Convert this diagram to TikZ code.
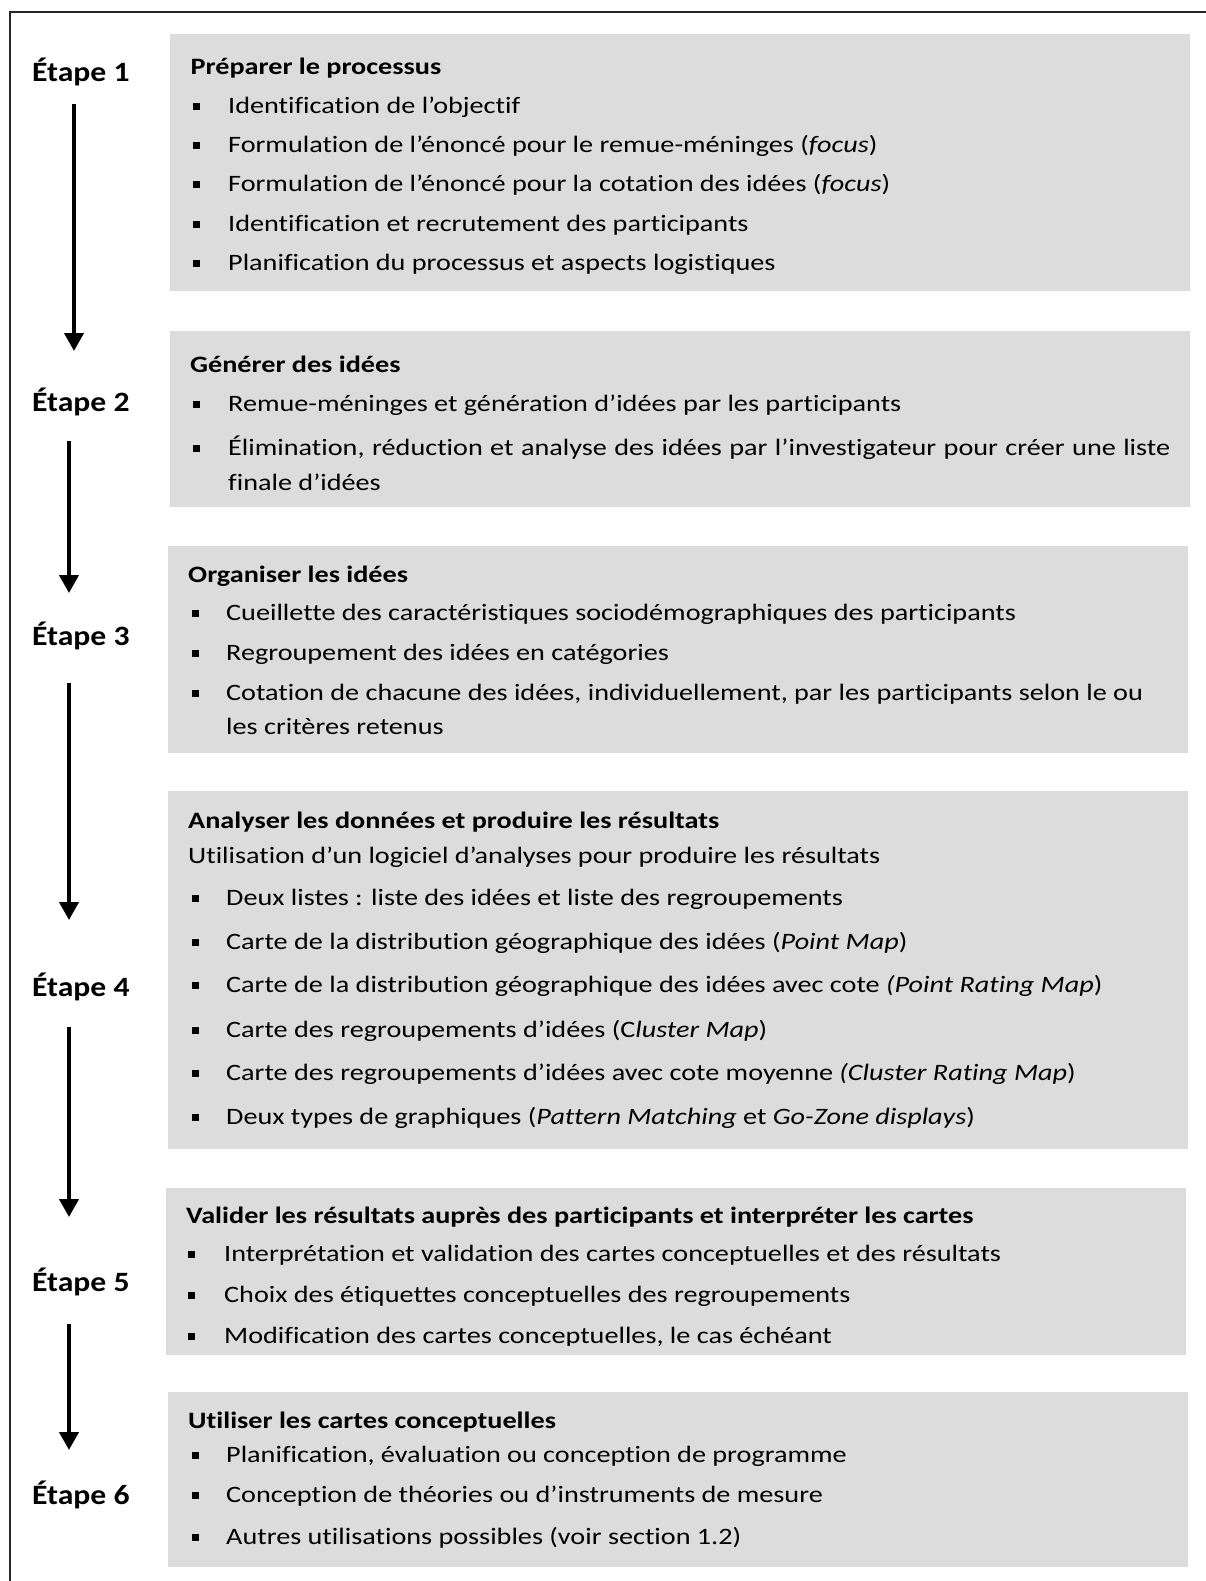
\documentclass[tikz,border=0pt]{standalone}
\usepackage{fontspec}
\setmainfont{Carlito}[FakeStretch=1.2, Ligatures=NoCommon]
\newfontfamily\stagefont{Carlito}[FakeStretch=1.13, Ligatures=NoCommon]
\usetikzlibrary{arrows.meta}
\definecolor{panelgray}{RGB}{220,220,220}
\tikzset{
  panel/.style={fill=panelgray, draw=none},
  stagelabel/.style={font=\stagefont\fontsize{28}{32}\selectfont\bfseries, inner sep=0pt, anchor=base west},
  heading/.style={font=\fontsize{23.5}{28}\selectfont\bfseries, inner sep=0pt, anchor=base west},
  body/.style={font=\fontsize{23.5}{28}\selectfont, inner sep=0pt, anchor=base west},
  flow/.style={line width=4pt, -{Triangle[width=19pt,length=18pt]}},
  frameline/.style={line width=1.8pt, draw=black!85}
}
% bullet square and its text: name, bullet x, text x, baseline y, text
\newcommand\bitem[5]{%
  \fill ({#2-3.5},{#4-10.5}) rectangle ({#2+3.5},{#4-3.5});
  \node[body] (#1) at (#3,#4) {#5};}
\begin{document}
\begin{tikzpicture}[x=1pt, y=-1pt]
\useasboundingbox (0,0) rectangle (1206,1581);
% outer frame (top and left edges)
\draw[frameline] (10,1581) -- (10,12) -- (1206,12);

% grey panels
\fill[panel] (170,34) rectangle (1190,291);
\fill[panel] (170,331) rectangle (1190,507);
\fill[panel] (168,546) rectangle (1188,753);
\fill[panel] (168,791) rectangle (1188,1149);
\fill[panel] (166,1188) rectangle (1186,1355);
\fill[panel] (168,1392) rectangle (1188,1567);

% stage labels
\node[stagelabel] (e1) at (32,82)   {Étape 1};
\node[stagelabel] (e2) at (32,411)  {Étape 2};
\node[stagelabel] (e3) at (32,645)  {Étape 3};
\node[stagelabel] (e4) at (32,996)  {Étape 4};
\node[stagelabel] (e5) at (32,1291) {Étape 5};
\node[stagelabel] (e6) at (32,1504) {Étape 6};

% arrows between stages
\coordinate (a1s) at (74,104);  \coordinate (a1e) at (74,351);
\coordinate (a2s) at (69,441);  \coordinate (a2e) at (69,593);
\coordinate (a3s) at (69,683);  \coordinate (a3e) at (69,920);
\coordinate (a4s) at (69,1027); \coordinate (a4e) at (69,1217);
\coordinate (a5s) at (69,1324); \coordinate (a5e) at (69,1450);
\draw[flow] (a1s) -- (a1e);
\draw[flow] (a2s) -- (a2e);
\draw[flow] (a3s) -- (a3e);
\draw[flow] (a4s) -- (a4e);
\draw[flow] (a5s) -- (a5e);

% stage 1
\node[heading] (h1) at (190.5,75) {Préparer le processus};
\bitem{s1a}{196}{228}{114}{Identification de l’objectif}
\bitem{s1b}{196}{228}{153}{Formulation de l’énoncé pour le remue-méninges (\textit{focus})}
\bitem{s1c}{196}{228}{192}{Formulation de l’énoncé pour la cotation des idées (\textit{focus})}
\bitem{s1d}{196}{228}{231}{Identification et recrutement des participants}
\bitem{s1e}{196}{228}{270}{Planification du processus et aspects logistiques}

% stage 2
\node[heading] (h2) at (190,372) {Générer des idées};
\bitem{s2a}{196}{228}{411}{Remue-méninges et génération d’idées par les participants}
\bitem{s2b}{196}{228}{455}{\makebox[942pt][s]{Élimination, réduction et analyse des idées par l’investigateur pour créer une liste}}
\node[body] (s2c) at (228,490) {finale d’idées};

% stage 3
\node[heading] (h3) at (188,582) {Organiser les idées};
\bitem{s3a}{195}{226}{620}{Cueillette des caractéristiques sociodémographiques des participants}
\bitem{s3b}{195}{226}{660}{Regroupement des idées en catégories}
\bitem{s3c}{195}{226}{700}{Cotation de chacune des idées, individuellement, par les participants selon le ou}
\node[body] (s3d) at (226,734) {les critères retenus};

% stage 4
\node[heading] (h4) at (188,828) {Analyser les données et produire les résultats};
\node[body] (s4u) at (188,863) {Utilisation d’un logiciel d’analyses pour produire les résultats};
\bitem{s4a}{195}{226}{905}{Deux listes : liste des idées et liste des regroupements}
\bitem{s4b}{195}{226}{949}{Carte de la distribution géographique des idées (\textit{Point Map})}
\bitem{s4c}{195}{226}{992}{Carte de la distribution géographique des idées avec cote \textit{(Point Rating Map})}
\bitem{s4d}{195}{226}{1037}{Carte des regroupements d’idées (C\textit{luster Map})}
\bitem{s4e}{195}{226}{1080}{Carte des regroupements d’idées avec cote moyenne \textit{(Cluster Rating Map})}
\bitem{s4f}{195}{226}{1124}{Deux types de graphiques (\textit{Pattern Matching} et \textit{Go-Zone displays})}

% stage 5 (the last line is cut just below its baseline)
\node[heading] (h5) at (186,1223) {Valider les résultats auprès des participants et interpréter les cartes};
\begin{scope}
\clip (166,1188) rectangle (1186,1345);
\bitem{s5a}{191.5}{224}{1261.5}{Interprétation et validation des cartes conceptuelles et des résultats}
\bitem{s5b}{191.5}{224}{1302}{Choix des étiquettes conceptuelles des regroupements}
\bitem{s5c}{191.5}{224}{1343}{Modification des cartes conceptuelles, le cas échéant}
\end{scope}

% stage 6
\node[heading] (h6) at (188,1428) {Utiliser les cartes conceptuelles};
\bitem{s6a}{195}{226}{1462}{Planification, évaluation ou conception de programme}
\bitem{s6b}{195}{226}{1502.5}{Conception de théories ou d’instruments de mesure}
\bitem{s6c}{195}{226}{1544}{Autres utilisations possibles (voir section 1.2)}
\end{tikzpicture}
\end{document}
